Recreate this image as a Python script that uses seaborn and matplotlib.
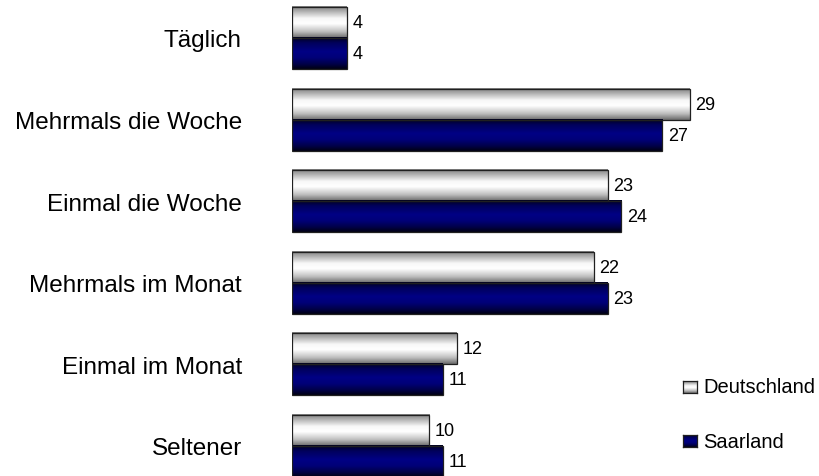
import numpy as np
import pandas as pd
import matplotlib
matplotlib.use("Agg")
import matplotlib.pyplot as plt
import seaborn as sns

# Wie oft? Anteile in Prozent
categories = ["Täglich", "Mehrmals die Woche", "Einmal die Woche",
              "Mehrmals im Monat", "Einmal im Monat", "Seltener"]
deutschland = [4, 29, 23, 22, 12, 10]
saarland = [4, 27, 24, 23, 11, 11]
series = ["Deutschland", "Saarland"]

sns.set_style("white")
plt.rcParams["font.family"] = ["Liberation Sans", "DejaVu Sans"]

df = pd.DataFrame({
    "Kategorie": categories * 2,
    "Wert": deutschland + saarland,
    "Reihe": [series[0]] * len(categories) + [series[1]] * len(categories),
})

W, H = 819, 477
fig = plt.figure(figsize=(W / 100, H / 100), dpi=100)
ax = fig.add_axes([292 / W, 0, 1 - 292 / W, 1])

sns.barplot(data=df, y="Kategorie", x="Wert", hue="Reihe", orient="h",
            order=categories, hue_order=series,
            palette=["#f0f0f0", "#000080"], width=0.76,
            edgecolor="#202020", linewidth=0.9, legend=False, ax=ax)


def profile(stops, n=64):
    pos = np.linspace(0, 1, n)
    xs = [s[0] for s in stops]
    out = np.zeros((n, 3))
    for c in range(3):
        out[:, c] = np.interp(pos, xs, [s[1][c] for s in stops])
    return out


grad_white = profile([(0.0, (0.50, 0.50, 0.50)), (0.15, (0.68, 0.68, 0.68)),
                      (0.38, (0.97, 0.97, 0.97)), (0.55, (1.0, 1.0, 1.0)),
                      (0.80, (0.75, 0.75, 0.75)), (1.0, (0.42, 0.42, 0.42))])
grad_blue = profile([(0.0, (0.0, 0.0, 0.12)), (0.18, (0.0, 0.0, 0.36)),
                     (0.45, (0.0, 0.0, 0.52)), (0.65, (0.0, 0.0, 0.47)),
                     (0.85, (0.0, 0.0, 0.28)), (1.0, (0.0, 0.0, 0.08))])
grads = [grad_white, grad_blue]

xlim = (0, (W - 292) / 13.72)
ylim = (-39 / 81.6 + H / 81.6, -39 / 81.6)

for container, grad in zip(ax.containers, grads):
    for bar in container:
        x0, y0 = bar.get_x(), bar.get_y()
        w, h = bar.get_width(), bar.get_height()
        ax.imshow(grad[:, None, :], extent=(x0, x0 + w, y0 + h, y0),
                  origin="upper", aspect="auto", interpolation="bilinear",
                  zorder=bar.get_zorder() - 0.1)
        bar.set_facecolor("none")
    ax.bar_label(container, padding=4, fontsize=13, color="black")

ax.set_xlim(*xlim)
ax.set_ylim(*ylim)
ax.set_aspect("auto")

for s in ax.spines.values():
    s.set_visible(False)
ax.set_xticks([])
ax.set_xlabel("")
ax.set_ylabel("")
ax.tick_params(axis="y", length=0, pad=36, labelsize=17.5, labelcolor="black")

# Legende
legend_rows = [(388, grad_white, series[0]), (442, grad_blue, series[1])]
for yc, grad, label in legend_rows:
    sq = fig.add_axes([683 / W, 1 - (yc + 6) / H, 14 / W, 12 / H])
    sq.imshow(grad[:, None, :], aspect="auto", interpolation="bilinear")
    sq.set_xticks([])
    sq.set_yticks([])
    for s in sq.spines.values():
        s.set_color("#202020")
        s.set_linewidth(0.9)
    fig.text(703 / W, 1 - yc / H, label, fontsize=14.5, va="center",
             ha="left", color="black")

fig.savefig("out.png", dpi=100)
